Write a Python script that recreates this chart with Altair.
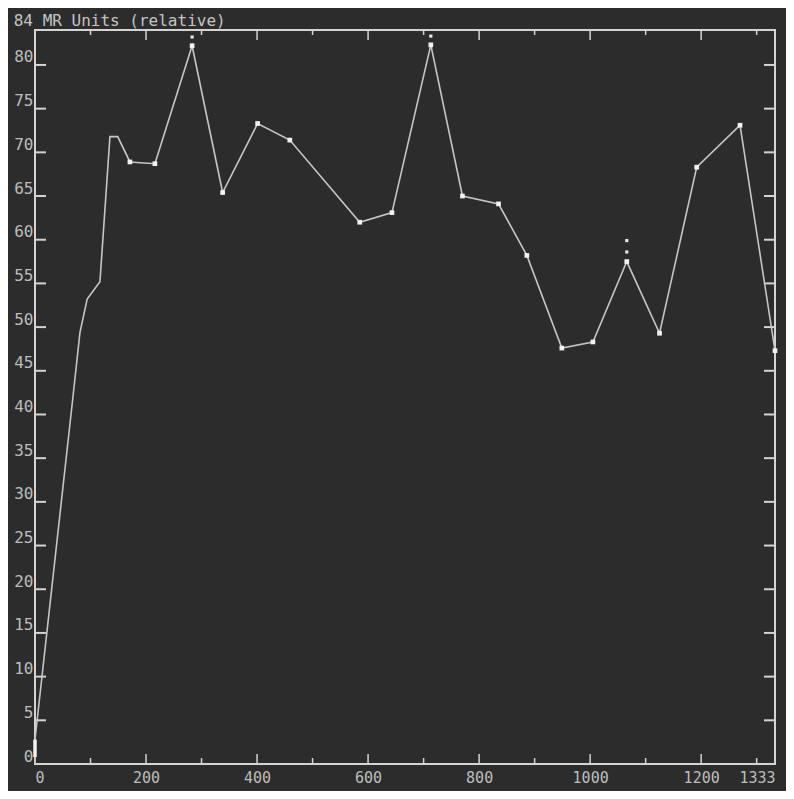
import altair as alt
import pandas as pd

# ---- data ----
line_x = [0, 0, 68, 81, 94, 117, 135, 149, 171, 216, 283, 338, 401, 459, 585, 643,
          713, 770, 835, 886, 949, 1005, 1066, 1125, 1192, 1270, 1333]
line_y = [0, 2.8, 41.8, 49.4, 53.2, 55.2, 71.8, 71.8, 68.9, 68.7, 82.2, 65.4, 73.3,
          71.4, 62.0, 63.1, 82.3, 65.0, 64.1, 58.2, 47.6, 48.3, 57.5, 49.3, 68.3, 73.1, 47.3]

marker_x = [171, 216, 283, 338, 401, 459, 585, 643, 713, 770, 835, 886, 949, 1005,
            1066, 1125, 1192, 1270, 1333]
marker_y = [68.9, 68.7, 82.2, 65.4, 73.3, 71.4, 62.0, 63.1, 82.3, 65.0, 64.1, 58.2,
            47.6, 48.3, 57.5, 49.3, 68.3, 73.1, 47.3]

flag_x = [283, 713, 1066, 1066]
flag_y = [83.2, 83.3, 58.6, 59.9]

start_bar_x = [0]
start_bar_y = [0.8]
start_bar_y2 = [2.8]

y_ticks = list(range(5, 81, 5))
y_labels = list(range(0, 81, 5))
x_major = [0, 200, 400, 600, 800, 1000, 1200]
x_minor = [100, 300, 500, 700, 900, 1100, 1300]
x_labels = [0, 200, 400, 600, 800, 1000, 1200, 1333]

# ---- styling ----
BG = "#2c2c2c"
FG = "#d4d4d4"
LINE = "#c6c6c6"
FONT = "DejaVu Sans Mono"
W, H = 740, 734

xs = alt.Scale(domain=[0, 1333], nice=False, zero=False)
ys = alt.Scale(domain=[0, 84], nice=False, zero=False)

line_df = pd.DataFrame({"x": line_x, "y": line_y, "o": range(len(line_x))})
mk_df = pd.DataFrame({"x": marker_x, "y": marker_y})
fl_df = pd.DataFrame({"x": flag_x, "y": flag_y})
sb_df = pd.DataFrame({"x": start_bar_x, "y": start_bar_y, "y2": start_bar_y2})
yt_df = pd.DataFrame({"y": y_ticks})
xM_df = pd.DataFrame({"x": x_major})
xm_df = pd.DataFrame({"x": x_minor})

line = alt.Chart(line_df).mark_line(color=LINE, strokeWidth=1.6).encode(
    x=alt.X("x:Q", scale=xs,
            axis=alt.Axis(values=x_labels, title=None, grid=False, domain=False,
                          ticks=False, labelPadding=6, labelFont=FONT,
                          labelFontSize=15, labelColor="#bdbdbd", format="d",
                          labelFlush=True, labelOverlap=False)),
    y=alt.Y("y:Q", scale=ys,
            axis=alt.Axis(values=y_labels, title=None, grid=False, domain=False,
                          ticks=False, labelPadding=2, labelFont=FONT,
                          labelFontSize=16, labelColor="#bdbdbd", format="d",
                          labelBaseline="bottom", labelOverlap=False,
                          labelFlush=False)),
    order="o:Q",
)

markers = alt.Chart(mk_df).mark_point(shape="square", filled=True, color="#f2f2f2",
                                      size=22, opacity=1).encode(
    x=alt.X("x:Q", scale=xs), y=alt.Y("y:Q", scale=ys))

flags = alt.Chart(fl_df).mark_point(shape="square", filled=True, color="#e8e8e8",
                                    size=10, opacity=1).encode(
    x=alt.X("x:Q", scale=xs), y=alt.Y("y:Q", scale=ys))

start_bar = alt.Chart(sb_df).mark_rule(color="#f2f2f2", strokeWidth=3.5).encode(
    x=alt.X("x:Q", scale=xs), y=alt.Y("y:Q", scale=ys), y2="y2:Q")

left_ticks = alt.Chart(yt_df).mark_rule(color=FG, strokeWidth=2).encode(
    y=alt.Y("y:Q", scale=ys), x=alt.value(0), x2=alt.value(11))
right_ticks = alt.Chart(yt_df).mark_rule(color=FG, strokeWidth=2).encode(
    y=alt.Y("y:Q", scale=ys), x=alt.value(W - 11), x2=alt.value(W))
bottom_major = alt.Chart(xM_df).mark_rule(color=FG, strokeWidth=1.5).encode(
    x=alt.X("x:Q", scale=xs), y=alt.value(H), y2=alt.value(H - 10))
bottom_minor = alt.Chart(xm_df).mark_rule(color=FG, strokeWidth=1.5).encode(
    x=alt.X("x:Q", scale=xs), y=alt.value(H), y2=alt.value(H - 6))
top_major = alt.Chart(xM_df).mark_rule(color=FG, strokeWidth=1.5).encode(
    x=alt.X("x:Q", scale=xs), y=alt.value(0), y2=alt.value(10))
top_minor = alt.Chart(xm_df).mark_rule(color=FG, strokeWidth=1.5).encode(
    x=alt.X("x:Q", scale=xs), y=alt.value(0), y2=alt.value(5))

chart = alt.layer(
    left_ticks, right_ticks, bottom_major, bottom_minor, top_major, top_minor,
    line, start_bar, markers, flags,
).properties(
    width=W, height=H,
    title=alt.TitleParams(text="84 MR Units (relative)", anchor="start", frame="bounds",
                          font=FONT, fontSize=16, fontWeight="normal",
                          color="#c4c4c4", offset=0),
    autosize=alt.AutoSizeParams(type="none"),
    padding={"left": 27, "top": 22, "right": 11, "bottom": 27},
).configure(
    background=BG,
).configure_view(
    stroke=FG, strokeWidth=2,
)

chart.save("out.html", embed_options={"renderer": "svg", "actions": False})
